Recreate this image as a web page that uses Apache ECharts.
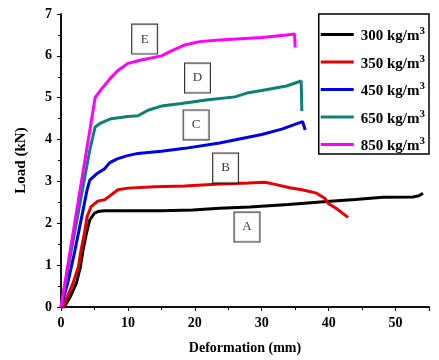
<!DOCTYPE html>
<html>
<head>
<meta charset="utf-8">
<script src="https://cdn.jsdelivr.net/npm/echarts@6/dist/echarts.min.js"></script>
<style>
  html, body { margin: 0; padding: 0; background: #fff; }
  #chart { width: 439px; height: 360px; }
</style>
</head>
<body>
<div id="chart"></div>
<script>
// [deformation mm, load kN]
const load300 = [[0, 0], [0.5, 0], [1.4, 0.25], [2.3, 0.57], [2.9, 0.96], [3.3, 1.36], [3.8, 1.76], [4.3, 2.08], [5, 2.24], [5.5, 2.28], [6.5, 2.3], [10, 2.3], [15, 2.3], [19.7, 2.32], [23.7, 2.36], [28.2, 2.39], [34, 2.45], [39.7, 2.52], [44, 2.57], [48.1, 2.62], [52.6, 2.63], [53.5, 2.66], [54.1, 2.72]];
const load350 = [[0, 0], [0.3, 0], [0.95, 0.25], [1.8, 0.57], [2.6, 0.96], [3, 1.36], [3.5, 1.76], [3.9, 2.16], [4.5, 2.4], [5.5, 2.53], [6.5, 2.56], [7, 2.62], [8.5, 2.8], [10, 2.84], [14, 2.87], [18.5, 2.89], [23.7, 2.94], [28, 2.96], [30.5, 2.98], [32, 2.93], [34.2, 2.85], [36, 2.8], [38.2, 2.72], [39.4, 2.6], [39.9, 2.48], [41.1, 2.36], [42.9, 2.14]];
const load450 = [[0, 0], [1, 0.57], [2.1, 1.36], [3.1, 2.16], [3.9, 2.8], [4.3, 3.03], [5.4, 3.19], [6.5, 3.3], [7.3, 3.45], [8.4, 3.54], [9.8, 3.61], [11.5, 3.67], [15, 3.72], [18.5, 3.79], [23.7, 3.92], [30, 4.12], [33, 4.25], [36.1, 4.43], [36.5, 4.23]];
const load650 = [[0, 0], [4.3, 3.75], [5.1, 4.3], [6, 4.4], [7.5, 4.5], [10, 4.55], [11.5, 4.57], [13, 4.7], [15, 4.8], [18, 4.86], [22, 4.95], [26, 5.02], [28, 5.12], [30, 5.17], [33.7, 5.28], [35.9, 5.4], [36, 4.68]];
const load850 = [[0, 0], [5.1, 5.0], [6, 5.2], [7.3, 5.45], [8.5, 5.65], [10, 5.82], [12, 5.9], [15, 6.0], [16.5, 6.12], [18.5, 6.26], [20.7, 6.34], [23.7, 6.38], [30, 6.44], [33.7, 6.5], [34.9, 6.52], [35, 6.2]];

const densities = ["300 kg/m3", "350 kg/m3", "450 kg/m3", "650 kg/m3", "850 kg/m3"];
const colors = ["#000000", "#e60000", "#0000e6", "#0e7f78", "#ff00ff"];
const curveLabels = ["A", "B", "C", "D", "E"];

const serif = "Liberation Serif";

// where each letter box sits, in data units
const labelSpots = [[27.8, 1.91], [24.6, 3.32], [20.2, 4.35], [20.4, 5.47], [12.5, 6.4]];

const chart = echarts.init(document.getElementById("chart"));

const curveSeries = [load300, load350, load450, load650, load850].map((d, i) => ({
  name: densities[i],
  type: "line",
  data: d,
  symbol: "none",
  lineStyle: { width: 3, color: colors[i] },
  itemStyle: { color: colors[i] },
  animation: false,
}));

chart.setOption({
  backgroundColor: "#fff",
  grid: { left: 61, right: 10, top: 14, bottom: 53 },
  xAxis: [
    {
      type: "value",
      min: 0,
      max: 55,
      interval: 10,
      name: "Deformation (mm)",
      nameLocation: "middle",
      nameGap: 34,
      nameTextStyle: { fontFamily: serif, fontWeight: "bold", fontSize: 14, color: "#000" },
      axisLine: { lineStyle: { color: "#000", width: 1.5 } },
      axisTick: { length: 4, lineStyle: { color: "#000" } },
      minorTick: { show: true, splitNumber: 2, length: 3, lineStyle: { color: "#000" } },
      axisLabel: { fontFamily: serif, fontWeight: "bold", fontSize: 14, color: "#000", margin: 9, showMaxLabel: false },
      splitLine: { show: false },
    },
    {
      type: "value",
      position: "top",
      min: 0,
      max: 55,
      axisLine: { lineStyle: { color: "#000", width: 1.5 } },
      axisTick: { show: false },
      axisLabel: { show: false },
      splitLine: { show: false },
    },
  ],
  yAxis: [
    {
      type: "value",
      min: 0,
      max: 7,
      interval: 1,
      name: "Load (kN)",
      nameLocation: "middle",
      nameGap: 32,
      nameTextStyle: { fontFamily: serif, fontWeight: "bold", fontSize: 15, color: "#000" },
      axisLine: { show: true, lineStyle: { color: "#000", width: 1.5 } },
      axisTick: { show: true, length: 4, lineStyle: { color: "#000" } },
      minorTick: { show: true, splitNumber: 2, length: 3, lineStyle: { color: "#000" } },
      axisLabel: { fontFamily: serif, fontWeight: "bold", fontSize: 14, color: "#000", margin: 9 },
      splitLine: { show: false },
    },
    {
      type: "value",
      position: "right",
      min: 0,
      max: 7,
      axisLine: { show: true, lineStyle: { color: "#000", width: 1.5 } },
      axisTick: { show: false },
      axisLabel: { show: false },
      splitLine: { show: false },
    },
  ],
  legend: {
    data: densities,
    orient: "vertical",
    right: 10,
    top: 14,
    padding: [11, 4, 0, 2],
    itemGap: 8.5,
    icon: "rect",
    itemWidth: 33,
    itemHeight: 3,
    borderColor: "#000",
    borderWidth: 1.5,
    backgroundColor: "#fff",
    formatter: (name) => "{t|" + name.slice(0, -1) + "}{s|3}",
    textStyle: {
      color: "#000",
      rich: {
        t: { fontFamily: serif, fontWeight: "bold", fontSize: 15, color: "#000", lineHeight: 18, padding: [4, 0, 0, 2] },
        s: { fontFamily: serif, fontWeight: "bold", fontSize: 11, color: "#000", lineHeight: 18, padding: [0, 0, 6, 0] },
      },
    },
  },
  series: [
    ...curveSeries,
    {
      name: "labels",
      type: "scatter",
      symbolSize: 0,
      silent: true,
      z: 10,
      data: labelSpots.map((p, i) => ({ value: p, name: curveLabels[i] })),
      label: {
        show: true,
        position: "inside",
        formatter: (p) => p.name,
        fontFamily: serif,
        fontSize: 13,
        color: "#000",
        backgroundColor: "#fff",
        borderColor: "#000",
        borderWidth: 1,
        width: 25,
        height: 29,
        lineHeight: 29,
        align: "center",
        verticalAlign: "middle",
      },
      animation: false,
    },
  ],
});

window.addEventListener("resize", () => chart.resize());
</script>
</body>
</html>
